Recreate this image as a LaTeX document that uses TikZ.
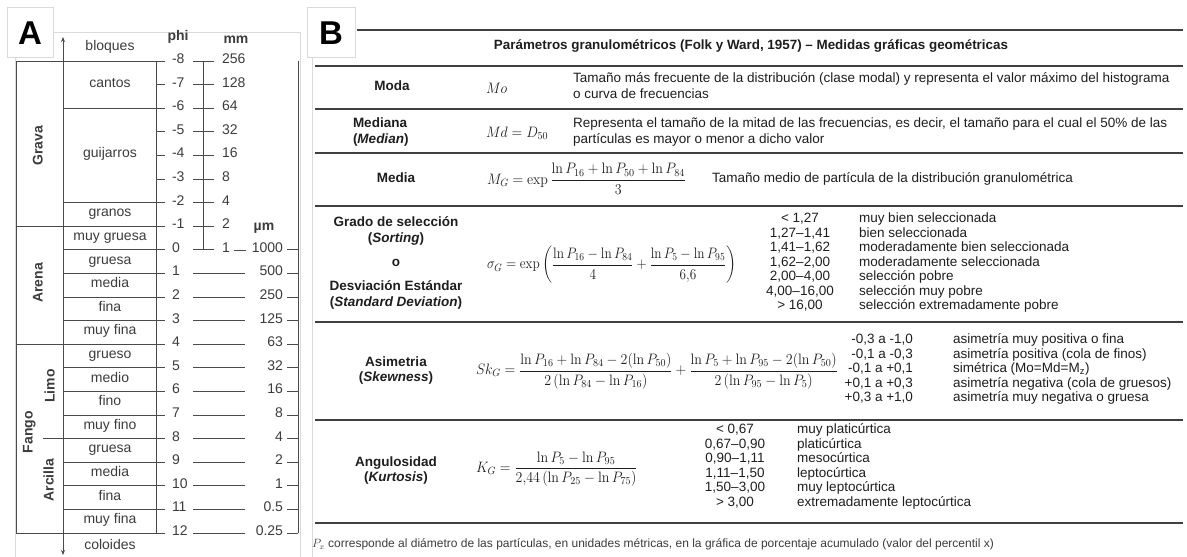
\RequirePackage{fix-cm}
\documentclass[tikz,border=0pt]{standalone}
\usepackage[no-math]{fontspec}
\setmainfont{Liberation Sans}
\usepackage{amsmath}
\usepackage{graphicx}
\usetikzlibrary{arrows.meta}
\definecolor{txA}{HTML}{3C3C3C}
\definecolor{lnA}{HTML}{4A4A4A}
\definecolor{txB}{HTML}{1E1E1E}
\definecolor{frm}{HTML}{DADADA}
\tikzset{
 base/.style={inner sep=0pt, outer sep=0pt, text height=0.72em, text depth=0.22em},
 ta/.style={base, font=\fontsize{14}{15}\selectfont, text=txA},
 tab/.style={base, font=\fontsize{14}{15}\selectfont\bfseries, text=txA},
 tb/.style={base, font=\fontsize{13.5}{14}\selectfont, text=txB},
 tbb/.style={base, font=\fontsize{13.5}{14}\selectfont\bfseries, text=txB},
 fml/.style={inner sep=0pt, outer sep=0pt, text=txB, font=\fontsize{14}{16}\selectfont},
 la/.style={draw=lnA, line width=0.9pt},
 rl/.style={draw=txB!85, line width=1.5pt},
 framed/.style={draw=frm, line width=0.6pt},
 big/.style={inner sep=0pt, font=\fontsize{33}{33}\selectfont\bfseries, text=black},
}
\newcommand{\fm}[1]{\scalebox{1}[1.08]{$\displaystyle #1$}}
\newcommand{\fmn}[1]{\scalebox{0.95}[1.08]{$\displaystyle #1$}}
\begin{document}
\begin{tikzpicture}[x=1pt,y=-1pt]
\path[use as bounding box] (0,0) rectangle (1187,557);
% ---------- frames ----------
\draw[framed] (53,32) -- (300,32) -- (300,557);
\draw[framed] (15,57) -- (15,557);
\draw[framed, fill=white] (7,7) rectangle (53,57);
\node[big] (labA) at (30,33) {A};
\draw[framed] (312,57) -- (312,557);
\draw[framed, fill=white] (307,7) rectangle (355,57);
\node[big] (labB) at (331,33) {B};
% ---------- panel A ----------
\draw[la] (16,61) -- (16,533);
\draw[la] (156,61) -- (156,533);
\draw[la, {Stealth[length=5pt,width=4pt]}-{Stealth[length=5pt,width=4pt]}] (63,37) -- (63,555);
\foreach \l/\xa in {-8/16,-6/63,-2/63,-1/16,0/63,1/63,2/63,3/63,4/16,5/63,6/63,7/63,8/43,9/63,10/63,11/63,12/16}{
  \pgfmathsetmacro\yy{61+(\l+8)*23.6}
  \draw[la] (\xa,\yy) -- (165,\yy);
}
\foreach \l in {-7,-5,-4,-3}{
  \pgfmathsetmacro\yy{61+(\l+8)*23.6}
  \draw[la] (156,\yy) -- (165,\yy);
}
\foreach \l [count=\k] in {-8,-7,-6,-5,-4,-3,-2,-1,0,1,2,3,4,5,6,7,8,9,10,11,12}{
  \pgfmathsetmacro\yy{61+(\l+8)*23.6}
  \node[ta, anchor=west] (phi\k) at (172,\yy) {\l};
}
\draw[la] (203,61) -- (203,250);
\foreach \l/\v [count=\k] in {-8/256,-7/128,-6/64,-5/32,-4/16,-3/8,-2/4,-1/2,0/1}{
  \pgfmathsetmacro\yy{61+(\l+8)*23.6}
  \draw[la] (193,\yy) -- (214,\yy);
  \node[ta, anchor=west] (mm\k) at (222,\yy) {\v};
}
\draw[la] (234,250) -- (246,250);
\foreach \l in {1,...,12}{
  \pgfmathsetmacro\yy{61+(\l+8)*23.6}
  \draw[la] (193,\yy) -- (245,\yy);
}
\draw[la] (298,61) -- (298,533);
\foreach \l/\v [count=\k] in {0/1000,1/500,2/250,3/125,4/63,5/32,6/16,7/8,8/4,9/2,10/1,11/0.5,12/0.25}{
  \pgfmathsetmacro\yy{61+(\l+8)*23.6}
  \node[ta, anchor=east] (um\k) at (283,\yy) {\v};
  \draw[la] (287,\yy) -- (298,\yy);
}
\node[tab] (hphi) at (178,38) {phi};
\node[tab] (hmm) at (236,41) {mm};
\node[tab] (hum) at (264,228) {µm};
\foreach \l/\t [count=\k] in {-8.55/bloques,-7/cantos,-4/guijarros,-1.5/granos,-0.5/muy gruesa,0.5/gruesa,1.5/media,2.5/fina,3.5/muy fina,4.5/grueso,5.5/medio,6.5/fino,7.5/muy fino,8.5/gruesa,9.5/media,10.5/fina,11.5/muy fina,12.6/coloides}{
  \pgfmathsetmacro\yy{61+(\l+8)*23.6}
  \node[ta] (cls\k) at (110,\yy) {\t};
}
\node[tab, rotate=90] (grava) at (40,146) {Grava};
\node[tab, rotate=90] (arena) at (40,283) {Arena};
\node[tab, rotate=90] (fango) at (30,432) {Fango};
\node[tab, rotate=90] (limo) at (52,386) {Limo};
\node[tab, rotate=90] (arcilla) at (51,480) {Arcilla};
% ---------- panel B ----------
\draw[rl, line width=1.8pt] (357,30) -- (1183,30);
\foreach \yy in {66,109,153,206,322,420,523}{
  \draw[rl] (315,\yy) -- (1183,\yy);
}
\node[tbb, font=\fontsize{13.4}{14}\selectfont\bfseries] (title) at (751,47) {Parámetros granulométricos (Folk y Ward, 1957) – Medidas gráficas geométricas};
% Moda
\node[tbb] (lMo) at (392,88) {Moda};
\node[fml, anchor=west] (fMo) at (486,88) {\fm{Mo}};
\node[tb, anchor=west] (dMo1) at (573,80) {Tamaño más frecuente de la distribución (clase modal) y representa el valor máximo del histograma};
\node[tb, anchor=west] (dMo2) at (573,96) {o curva de frecuencias};
% Mediana
\node[tbb, anchor=west] (lMd1) at (353,125) {Mediana};
\node[tbb, anchor=west] (lMd2) at (353,141) {(\textit{Median})};
\node[fml, anchor=west] (fMd) at (486,133) {\fm{Md = D_{50}}};
\node[tb, anchor=west] (dMd1) at (573,125) {Representa el tamaño de la mitad de las frecuencias, es decir, el tamaño para el cual el 50\% de las};
\node[tb, anchor=west] (dMd2) at (573,141) {partículas es mayor o menor a dicho valor};
% Media
\node[tbb] (lMe) at (396,180) {Media};
\node[fml, anchor=west] (fMe) at (487,179) {\fm{M_G = \exp\frac{\ln P_{16} + \ln P_{50} + \ln P_{84}}{3}}};
\node[tb, anchor=west] (dMe) at (712,180) {Tamaño medio de partícula de la distribución granulométrica};
% Grado de seleccion
\node[tbb] (lGr1) at (396,224) {Grado de selección};
\node[tbb] (lGr2) at (396,240) {(\textit{Sorting})};
\node[tbb] (lGr3) at (396,264) {o};
\node[tbb] (lGr4) at (396,288) {Desviación Estándar};
\node[tbb] (lGr5) at (396,304) {(\textit{Standard Deviation})};
\node[fml, anchor=west] (fGr) at (487,265) {\fmn{\sigma_G = \exp\left(\frac{\ln P_{16} - \ln P_{84}}{4} + \frac{\ln P_5 - \ln P_{95}}{6{,}6}\right)}};
\node[tb] (vGr1) at (800,220) {< 1,27};
\node[tb] (vGr2) at (800,234.5) {1,27–1,41};
\node[tb] (vGr3) at (800,249) {1,41–1,62};
\node[tb] (vGr4) at (800,263.5) {1,62–2,00};
\node[tb] (vGr5) at (800,278) {2,00–4,00};
\node[tb] (vGr6) at (800,292.5) {4,00–16,00};
\node[tb] (vGr7) at (800,307) {> 16,00};
\node[tb, anchor=west] (dGr1) at (859,220) {muy bien seleccionada};
\node[tb, anchor=west] (dGr2) at (859,234.5) {bien seleccionada};
\node[tb, anchor=west] (dGr3) at (859,249) {moderadamente bien seleccionada};
\node[tb, anchor=west] (dGr4) at (859,263.5) {moderadamente seleccionada};
\node[tb, anchor=west] (dGr5) at (859,278) {selección pobre};
\node[tb, anchor=west] (dGr6) at (859,292.5) {selección muy pobre};
\node[tb, anchor=west] (dGr7) at (859,307) {selección extremadamente pobre};
% Asimetria
\node[tbb] (lAs1) at (396,364) {Asimetria};
\node[tbb] (lAs2) at (396,379) {(\textit{Skewness})};
\node[fml, anchor=west] (fAs) at (476,371) {\fm{Sk_G = \frac{\ln P_{16} + \ln P_{84} - 2(\ln P_{50})}{2\,(\ln P_{84} - \ln P_{16})} + \frac{\ln P_5 + \ln P_{95} - 2(\ln P_{50})}{2\,(\ln P_{95} - \ln P_5)}}};
\node[tb, anchor=east] (vAs1) at (913,341) {-0,3 a -1,0};
\node[tb, anchor=east] (vAs2) at (913,355.5) {-0,1 a -0,3};
\node[tb, anchor=east] (vAs3) at (913,370) {-0,1 a +0,1};
\node[tb, anchor=east] (vAs4) at (913,384.5) {+0,1 a +0,3};
\node[tb, anchor=east] (vAs5) at (913,399) {+0,3 a +1,0};
\node[tb, anchor=west] (dAs1) at (953,341) {asimetría muy positiva o fina};
\node[tb, anchor=west] (dAs2) at (953,355.5) {asimetría positiva (cola de finos)};
\node[tb, anchor=west] (dAs3) at (953,370) {simétrica (Mo=Md=M\textsubscript{z})};
\node[tb, anchor=west] (dAs4) at (953,384.5) {asimetría negativa (cola de gruesos)};
\node[tb, anchor=west] (dAs5) at (953,399) {asimetría muy negativa o gruesa};
% Kurtosis
\node[tbb] (lKu1) at (396,464) {Angulosidad};
\node[tbb] (lKu2) at (396,479) {(\textit{Kurtosis})};
\node[fml, anchor=west] (fKu) at (476,469) {\fm{K_G = \frac{\ln P_5 - \ln P_{95}}{2{,}44\,(\ln P_{25} - \ln P_{75})}}};
\node[tb] (vKu1) at (735,431) {< 0,67};
\node[tb] (vKu2) at (735,445.5) {0,67–0,90};
\node[tb] (vKu3) at (735,460) {0,90–1,11};
\node[tb] (vKu4) at (735,474.5) {1,11–1,50};
\node[tb] (vKu5) at (735,489) {1,50–3,00};
\node[tb] (vKu6) at (735,503.5) {> 3,00};
\node[tb, anchor=west] (dKu1) at (797,431) {muy platicúrtica};
\node[tb, anchor=west] (dKu2) at (797,445.5) {platicúrtica};
\node[tb, anchor=west] (dKu3) at (797,460) {mesocúrtica};
\node[tb, anchor=west] (dKu4) at (797,474.5) {leptocúrtica};
\node[tb, anchor=west] (dKu5) at (797,489) {muy leptocúrtica};
\node[tb, anchor=west] (dKu6) at (797,503.5) {extremadamente leptocúrtica};
% footnote
\node[base, anchor=west, font=\fontsize{12}{13}\selectfont, text=txA] (foot) at (312,545) {$P_x$ corresponde al diámetro de las partículas, en unidades métricas, en la gráfica de porcentaje acumulado (valor del percentil x)};
\end{tikzpicture}
\end{document}
